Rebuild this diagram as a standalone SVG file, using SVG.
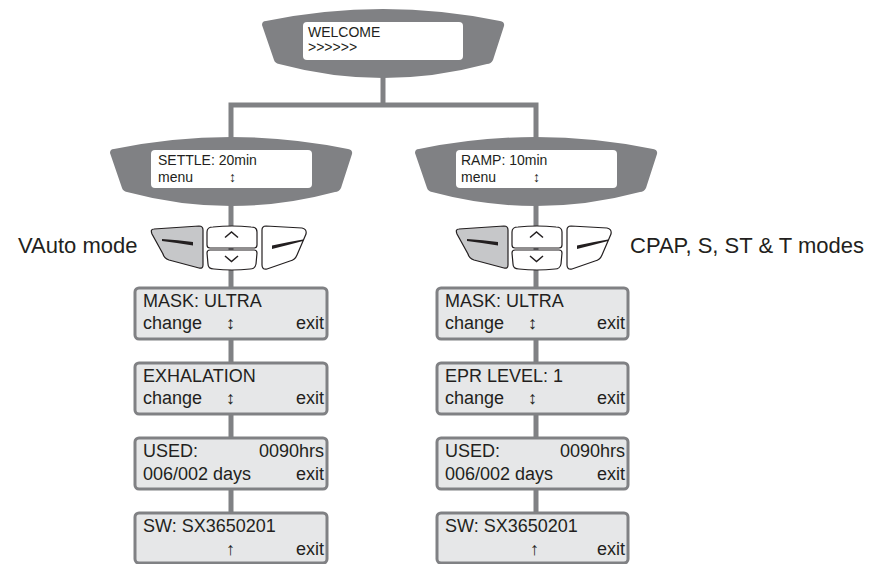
<svg xmlns="http://www.w3.org/2000/svg" width="873" height="564" viewBox="0 0 873 564">
<style>
.bg{fill:#ffffff}
.conn{fill:none;stroke:#808184;stroke-width:5;stroke-linejoin:miter}
.disp{fill:#808184}
.scr{fill:#ffffff}
.dt{font-family:"Liberation Sans",Arial,sans-serif;font-size:14px;fill:#231f20}
.box{fill:#e6e7e8;stroke:#808184;stroke-width:3}
.bt{font-family:"Liberation Sans",Arial,sans-serif;font-size:18px;fill:#231f20}
.lbl{font-family:"Liberation Sans",Arial,sans-serif;font-size:22px;fill:#231f20}
.btn{fill:#ffffff;stroke:#231f20;stroke-width:1.2}
.btng{fill:#c6c7c9;stroke:#231f20;stroke-width:1.2}
.chev{fill:none;stroke:#231f20;stroke-width:1.5}
.dash{fill:#231f20}
</style>
<defs>
<path id="dispShape" d="M -121,25 Q -121,21 -117,21 Q 0,-3 117,21 Q 122,22 121,26 L 110,60 Q 108,64 104,64 Q 0,92 -104,64 Q -108,63 -109,60 Z"/>
<g id="keypad">
<path class="btng" d="M -76,4 L -31,1 Q -27,1 -27,5 L -27,40 Q -27,44 -31,43 L -61,35 Q -66,33 -67,29 L -78,9 Q -80,4 -76,4 Z"/>
<path class="dash" d="M -68,14 Q -52,15 -37,17 L -37,20.5 Q -52,18 -68,16 Z"/>
<path class="btn" d="M -23,20 L -23,7 Q -23,2 -17,2 Q 2,0 21,2 Q 27,2 27,7 L 27,20 Q 27,23 24,23 L -20,23 Q -23,23 -23,20 Z"/>
<path class="btn" d="M -23,28 Q -23,25 -20,25 L 24,25 Q 27,25 27,28 L 26,39 Q 25,44 20,44 Q 2,46 -16,44 Q -22,44 -22,39 Z"/>
<path class="chev" d="M -5,12.5 L 1.5,7 L 8,12.5"/>
<path class="chev" d="M -5,31 L 1.5,36.5 L 8,31"/>
<path class="btn" d="M 32,5 Q 32,1 36,1 L 72,3 Q 77,4 76,9 L 67,30 Q 65,35 60,36 L 37,44 Q 32,45 32,40 Z"/>
<path class="dash" d="M 42,20.5 Q 58,17 73,14.5 L 73,16 Q 58,20 42,24 Z"/>
</g>
</defs>
<rect class="bg" x="0" y="0" width="873" height="564"/>
<g id="connectors">
<path class="conn" d="M 383,70 V 105"/>
<path class="conn" d="M 231,150 V 105 H 536 V 150"/>
<path class="conn" d="M 231,150 V 525"/>
<path class="conn" d="M 536,150 V 525"/>
</g>
<g id="welcome" transform="translate(383,0)">
<use href="#dispShape" class="disp"/>
<rect class="scr" x="-80" y="22" width="160" height="38" rx="4"/>
<text class="dt" x="-75" y="37">WELCOME</text>
<text class="dt" x="-75" y="52">&gt;&gt;&gt;&gt;&gt;&gt;</text>
</g>
<g id="settle" transform="translate(231,128)">
<use href="#dispShape" class="disp"/>
<rect class="scr" x="-80" y="22" width="161" height="38" rx="4"/>
<text class="dt" x="-73" y="37">SETTLE: 20min</text>
<text class="dt" x="-73" y="54">menu</text>
<text class="dt" x="-2" y="54">↕</text>
</g>
<g id="ramp" transform="translate(536,128)">
<use href="#dispShape" class="disp"/>
<rect class="scr" x="-80" y="22" width="161" height="38" rx="4"/>
<text class="dt" x="-75" y="37">RAMP: 10min</text>
<text class="dt" x="-75" y="54">menu</text>
<text class="dt" x="-3" y="54">↕</text>
</g>
<g id="keypad-left" transform="translate(230,225)">
<use href="#keypad"/>
</g>
<g id="keypad-right" transform="translate(535,225)">
<use href="#keypad"/>
</g>
<g id="label-vauto">
<text class="lbl" x="18" y="253">VAuto mode</text>
</g>
<g id="label-cpap">
<text class="lbl" x="630" y="253">CPAP, S, ST &amp; T modes</text>
</g>
<g id="mask-left">
<rect class="box" x="135" y="288" width="192" height="51" rx="4"/>
<text class="bt" x="143" y="307">MASK: ULTRA</text>
<text class="bt" x="143" y="329">change</text>
<text class="bt" x="226" y="329">↕</text>
<text class="bt" x="324" y="329" text-anchor="end">exit</text>
</g>
<g id="exhalation">
<rect class="box" x="135" y="363" width="192" height="51" rx="4"/>
<text class="bt" x="143" y="382">EXHALATION</text>
<text class="bt" x="143" y="404">change</text>
<text class="bt" x="226" y="404">↕</text>
<text class="bt" x="324" y="404" text-anchor="end">exit</text>
</g>
<g id="used-left">
<rect class="box" x="135" y="438" width="192" height="51" rx="4"/>
<text class="bt" x="143" y="457">USED:</text>
<text class="bt" x="324" y="457" text-anchor="end">0090hrs</text>
<text class="bt" x="143" y="480">006/002 days</text>
<text class="bt" x="324" y="480" text-anchor="end">exit</text>
</g>
<g id="sw-left">
<rect class="box" x="135" y="513" width="192" height="50" rx="4"/>
<text class="bt" x="143" y="532">SW: SX3650201</text>
<text class="bt" x="226" y="555">↑</text>
<text class="bt" x="324" y="555" text-anchor="end">exit</text>
</g>
<g id="mask-right">
<rect class="box" x="437" y="288" width="191" height="51" rx="4"/>
<text class="bt" x="445" y="307">MASK: ULTRA</text>
<text class="bt" x="445" y="329">change</text>
<text class="bt" x="528" y="329">↕</text>
<text class="bt" x="625" y="329" text-anchor="end">exit</text>
</g>
<g id="epr">
<rect class="box" x="437" y="363" width="191" height="51" rx="4"/>
<text class="bt" x="445" y="382">EPR LEVEL: 1</text>
<text class="bt" x="445" y="404">change</text>
<text class="bt" x="528" y="404">↕</text>
<text class="bt" x="625" y="404" text-anchor="end">exit</text>
</g>
<g id="used-right">
<rect class="box" x="437" y="438" width="191" height="51" rx="4"/>
<text class="bt" x="445" y="457">USED:</text>
<text class="bt" x="625" y="457" text-anchor="end">0090hrs</text>
<text class="bt" x="445" y="480">006/002 days</text>
<text class="bt" x="625" y="480" text-anchor="end">exit</text>
</g>
<g id="sw-right">
<rect class="box" x="437" y="513" width="191" height="50" rx="4"/>
<text class="bt" x="445" y="532">SW: SX3650201</text>
<text class="bt" x="530" y="555">↑</text>
<text class="bt" x="625" y="555" text-anchor="end">exit</text>
</g>
</svg>
